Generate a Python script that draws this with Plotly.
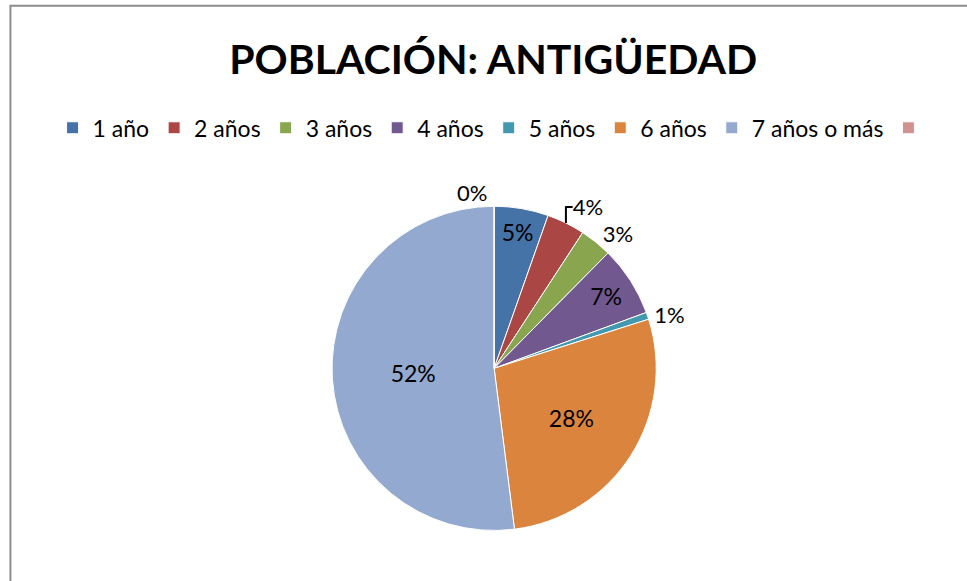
import plotly.graph_objects as go

# ---- Data ----
categories = ["1 año", "2 años", "3 años", "4 años", "5 años", "6 años", "7 años o más", " "]
values = [5.4, 3.8, 3.2, 7.0, 0.7, 27.9, 52.0, 0]
text_pos = ["inside", "outside", "outside", "inside", "outside", "inside", "inside", "outside"]

COLORS = ["#4572A7", "#AA4643", "#89A54E", "#71588F", "#4198AF", "#DB843D", "#93A9CF", "#D19392"]
FONT = "Lato, Calibri, sans-serif"

fig = go.Figure(go.Pie(
    labels=categories,
    values=values,
    sort=False,
    direction="clockwise",
    rotation=0,
    marker=dict(colors=COLORS, line=dict(color="white", width=1)),
    textinfo="percent",
    texttemplate="%{percent:.0%}",
    textposition=text_pos,
    insidetextorientation="horizontal",
    insidetextfont=dict(size=23, color="black", family=FONT),
    outsidetextfont=dict(size=22, color="black", family=FONT),
    domain=dict(x=[0.342, 0.680], y=[0.087, 0.645]),
    hoverinfo="label+percent",
))

fig.update_layout(
    width=967,
    height=581,
    paper_bgcolor="white",
    plot_bgcolor="white",
    font=dict(family=FONT, color="black"),
    title=dict(
        text="<b>POBLACIÓN: ANTIGÜEDAD</b>",
        font=dict(size=41, color="black", family=FONT),
        x=0.51, xanchor="center",
        y=0.897, yanchor="middle",
    ),
    legend=dict(
        orientation="h",
        x=0.513, xanchor="center",
        y=0.78, yanchor="middle",
        font=dict(size=23, color="black", family=FONT),
        traceorder="normal",
        itemwidth=30,
    ),
    margin=dict(l=0, r=0, t=0, b=0),
    shapes=[dict(
        type="rect", xref="paper", yref="paper",
        x0=0.0108, x1=1.05, y0=-0.05, y1=0.99,
        line=dict(color="#8c8c8c", width=2),
    )],
)

fig.write_html(
    "out.html",
    config={"displayModeBar": False},
    post_script="document.body.style.margin='0';",
)
